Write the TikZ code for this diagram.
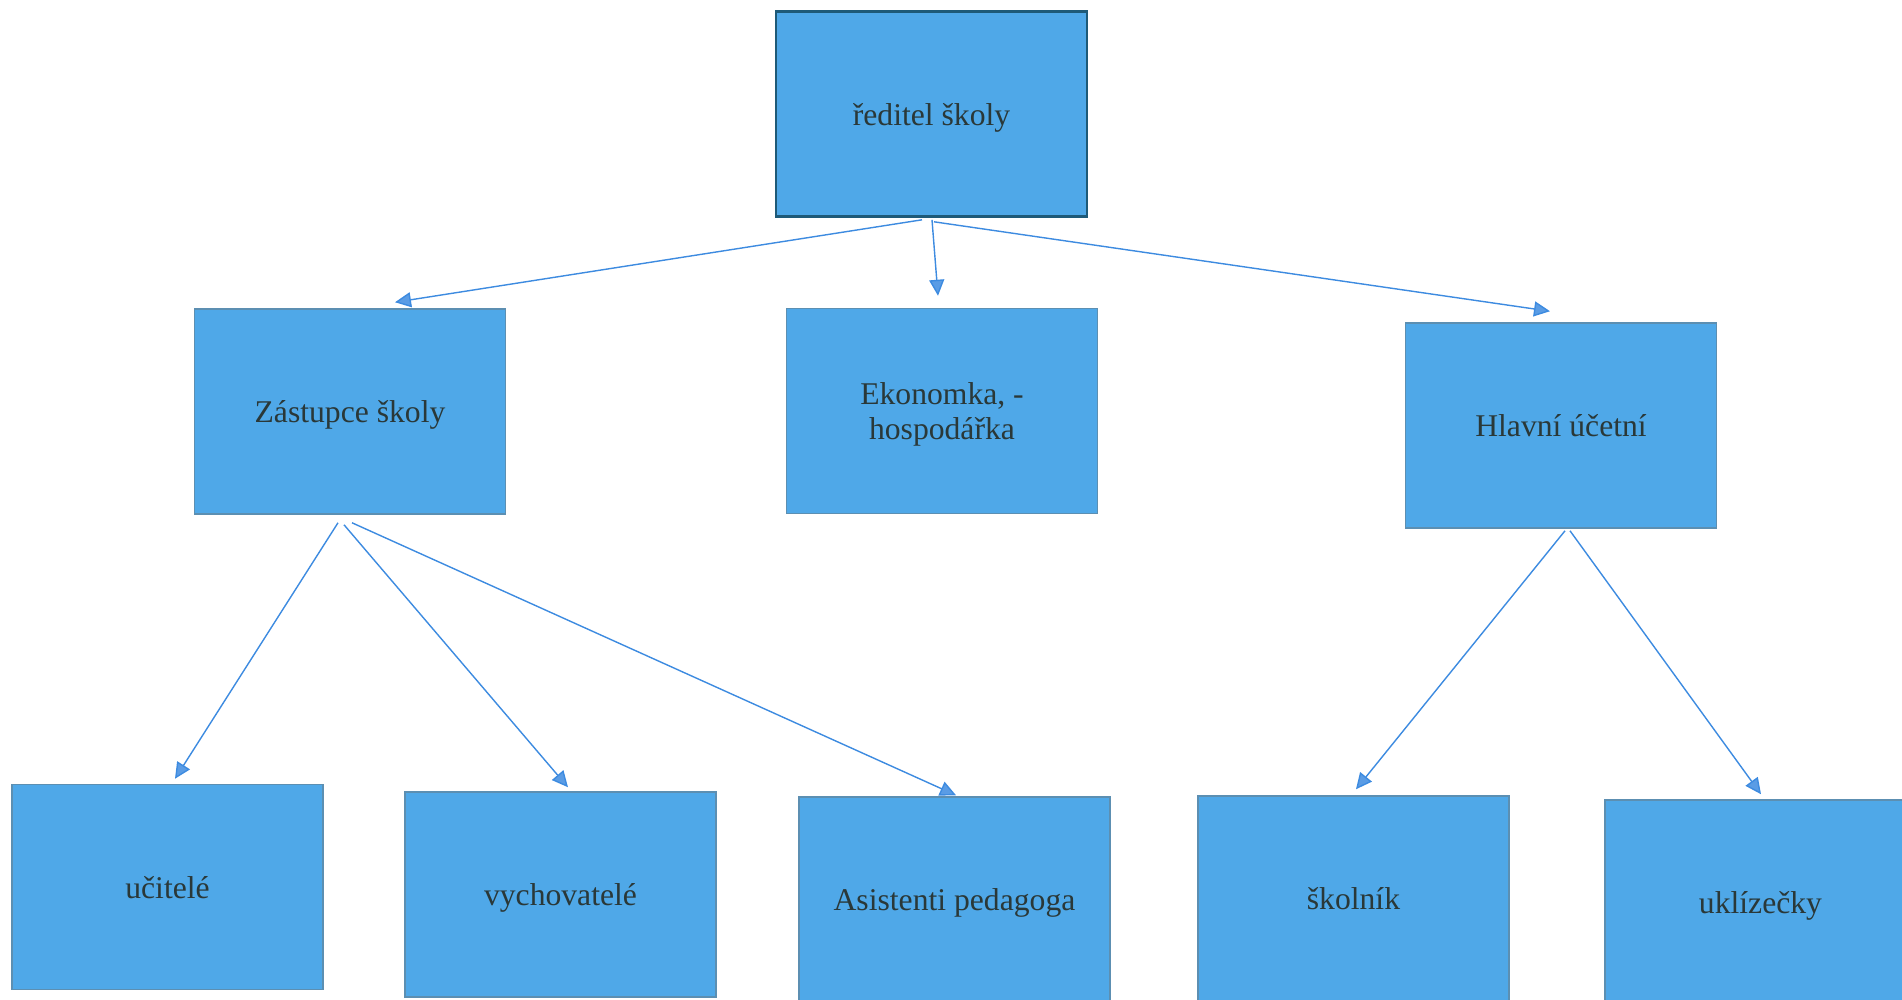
\documentclass[tikz,border=0pt]{standalone}
\usepackage{fontspec}
\setmainfont{Liberation Serif}
\usetikzlibrary{arrows.meta,calc}
\definecolor{modra}{HTML}{4FA8E8}
\definecolor{okraj}{HTML}{5C8FB2}
\definecolor{tmavy}{HTML}{1E5A78}
\definecolor{sipkova}{HTML}{3D8BE0}
\definecolor{pismo}{HTML}{2A3838}

\begin{document}
\begin{tikzpicture}[x=0.01cm,y=-0.01cm,
		funkce/.style={rectangle, fill=modra, draw=okraj, line width=0.4pt,
			minimum width=3.11cm, minimum height=2.05cm, inner sep=0pt, text depth=0pt,
			align=center, text=pismo, font=\fontsize{9}{10.2}\selectfont},
		sipka/.style={draw=sipkova, line width=0.4pt,
			-{Triangle[length=0.16cm,width=0.15cm,fill=sipkova!85!white]}}]
				\clip (0,0) rectangle (1902,999);
				\node[funkce, draw=tmavy, line width=0.7pt] (reditel) at (931.5,114) {ředitel školy};
				\node[funkce] (zastupce) at (350,411.5) {Zástupce školy};
				\node[funkce] (ekonomka) at (942,411) {Ekonomka, -\\hospodářka};
				\node[funkce] (ucetni) at (1561,425.5) {Hlavní účetní};
				\node[funkce] (ucitele) at (167.5,887) {učitelé};
				\node[funkce] (vychovatele) at (560.5,894.5) {vychovatelé};
				\node[funkce] (asistenti) at (954.5,899.5) {Asistenti pedagoga};
				\node[funkce] (skolnik) at (1353.5,898.5) {školník};
				\node[funkce] (uklizecky) at (1760.5,902.5) {uklízečky};
				\draw[sipka] ($(reditel.south)+(-9.5,2)$) -- ($(zastupce.north)+(45,-6)$);
				\draw[sipka] ($(reditel.south)+(0.5,2)$) -- ($(ekonomka.north)+(-4,-12)$);
				\draw[sipka] ($(reditel.south)+(2.5,4)$) -- ($(ucetni.north)+(-11,-11)$);
				\draw[sipka] ($(zastupce.south)+(-12,8)$) -- ($(ucitele.north)+(7.5,-5)$);
				\draw[sipka] ($(zastupce.south)+(-6,10)$) -- ($(vychovatele.north)+(7.5,-4)$);
				\draw[sipka] ($(zastupce.south)+(2,8)$) -- ($(asistenti.north)+(1.5,-1)$);
				\draw[sipka] ($(ucetni.south)+(4,2)$) -- ($(skolnik.north)+(2.5,-6)$);
				\draw[sipka] ($(ucetni.south)+(9,2)$) -- ($(uklizecky.north)+(0.5,-5)$);
			\end{tikzpicture}
\end{document}
